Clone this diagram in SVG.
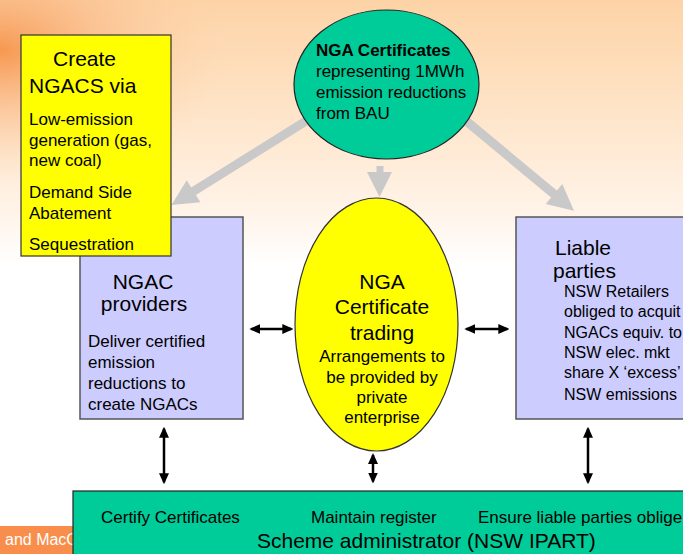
<svg xmlns="http://www.w3.org/2000/svg" width="683" height="554" viewBox="0 0 683 554">
  <defs>
    <linearGradient id="bgFade" x1="0" y1="0" x2="0" y2="554" gradientUnits="userSpaceOnUse">
      <stop offset="0" stop-color="#FDD3A6"/>
      <stop offset="0.20" stop-color="#FEE4C8"/>
      <stop offset="0.38" stop-color="#FFF3E8"/>
      <stop offset="0.48" stop-color="#FFFFFF"/>
      <stop offset="1" stop-color="#FFFFFF"/>
    </linearGradient>
    <radialGradient id="bgGlow" cx="0" cy="50" r="230" gradientUnits="userSpaceOnUse"
                    gradientTransform="translate(0,50) scale(1,0.6) translate(0,-50)">
      <stop offset="0" stop-color="#F6944A" stop-opacity="0.95"/>
      <stop offset="0.45" stop-color="#F9B07A" stop-opacity="0.5"/>
      <stop offset="1" stop-color="#FDD3A6" stop-opacity="0"/>
    </radialGradient>
    <marker id="tip" viewBox="0 0 11 10" refX="9" refY="5" markerWidth="11" markerHeight="10"
            markerUnits="userSpaceOnUse" orient="auto-start-reverse">
      <path d="M0,0 L11,5 L0,10 Z" fill="#000"/>
    </marker>
    <style>
      text { font-family: "Liberation Sans", Arial, sans-serif; fill: #000; }
      .big { font-size: 21px; }
      .body { font-size: 17px; }
      .small { font-size: 16px; }
      .bold { font-weight: bold; }
      .mid { text-anchor: middle; }
      .lav { fill: #CCCCFF; stroke: #555; stroke-width: 1.5; }
      .ylw { fill: #FFFF00; stroke: #333; stroke-width: 1.2; }
      .grn { fill: #00CC99; stroke: #222; stroke-width: 1.2; }
      .flow { fill: #C9C9C9; }
      .link { stroke: #000; stroke-width: 2.5; fill: none; marker-start: url(#tip); marker-end: url(#tip); }
    </style>
  </defs>

  <!-- backdrop -->
  <rect x="0" y="0" width="683" height="554" fill="url(#bgFade)"/>
  <rect x="0" y="0" width="683" height="300" fill="url(#bgGlow)"/>

  <!-- footer tab -->
  <rect x="0" y="526" width="80" height="28" fill="#F98E4C"/>
  <text x="5" y="545" style="font-size:16px; fill:#FFFFFF">and MacG</text>

  <!-- gray flow arrows from the certificate node, black exchange links -->
  <g id="connectors">
    <polygon class="flow" points="308.4,124.8 195.9,195.0 200.4,202.2 171.5,205 186.7,180.2 191.2,187.4 303.6,117.2"/>
    <polygon class="flow" points="376.5,166 383.5,166 383.5,172 392,172 379.5,197 367,172 376.5,172"/>
    <polygon class="flow" points="462.1,123.5 551.1,197.5 545.7,204.1 574,210.7 562.3,184.1 556.9,190.6 467.9,116.5"/>

    <line class="link" x1="251.3" y1="329" x2="291.3" y2="329"/>
    <line class="link" x1="466.3" y1="329" x2="507.3" y2="329"/>
    <line class="link" x1="164" y1="428.7" x2="164" y2="482.3"/>
    <line class="link" x1="373" y1="455" x2="373" y2="481.5"/>
    <line class="link" x1="588" y1="428.7" x2="588" y2="482.3"/>
  </g>

  <!-- NGAC providers -->
  <g id="providers">
    <rect class="lav" x="80" y="217" width="163" height="202"/>
    <text class="big mid" x="143" y="289">NGAC</text>
    <text class="big mid" x="144" y="311">providers</text>
    <text class="body" x="88" y="347">Deliver certified</text>
    <text class="body" x="88" y="368">emission</text>
    <text class="body" x="88" y="389">reductions to</text>
    <text class="body" x="88" y="410">create NGACs</text>
  </g>

  <!-- Ways of creating certificates -->
  <g id="create">
    <rect class="ylw" x="21" y="35" width="150" height="221"/>
    <text class="big" x="53" y="66">Create</text>
    <text class="big" x="29" y="93">NGACS via</text>
    <text class="body" x="29" y="125">Low-emission</text>
    <text class="body" x="29" y="146">generation (gas,</text>
    <text class="body" x="29" y="166">new coal)</text>
    <text class="body" x="29" y="198">Demand Side</text>
    <text class="body" x="29" y="219">Abatement</text>
    <text class="body" x="29" y="250">Sequestration</text>
  </g>

  <!-- Liable parties -->
  <g id="liable">
    <rect class="lav" x="516" y="217" width="175" height="202"/>
    <text class="big" x="555" y="255">Liable</text>
    <text class="big" x="553" y="278">parties</text>
    <text class="small" x="564" y="297">NSW Retailers</text>
    <text class="small" x="564" y="317">obliged to acquit</text>
    <text class="small" x="564" y="338">NGACs equiv. to</text>
    <text class="small" x="564" y="358">NSW elec. mkt</text>
    <text class="small" x="564" y="378">share X ‘excess’</text>
    <text class="small" x="564" y="400">NSW emissions</text>
  </g>

  <!-- Certificates -->
  <g id="certificates">
    <ellipse class="grn" cx="386.5" cy="84.5" rx="92.5" ry="74.5"/>
    <text class="body bold" x="316" y="56">NGA Certificates</text>
    <text class="body" x="316" y="77">representing 1MWh</text>
    <text class="body" x="316" y="98">emission reductions</text>
    <text class="body" x="316" y="119">from BAU</text>
  </g>

  <!-- Trading -->
  <g id="trading">
    <ellipse class="ylw" cx="376.5" cy="324.5" rx="81.5" ry="126.5"/>
    <text class="big mid" x="382" y="289">NGA</text>
    <text class="big mid" x="382" y="314">Certificate</text>
    <text class="big mid" x="382" y="340">trading</text>
    <text class="body mid" x="382" y="362">Arrangements to</text>
    <text class="body mid" x="382" y="383">be provided by</text>
    <text class="body mid" x="382" y="403">private</text>
    <text class="body mid" x="382" y="423">enterprise</text>
  </g>

  <!-- Scheme administrator -->
  <g id="administrator">
    <rect class="grn" x="73" y="491" width="620" height="70"/>
    <text class="body" x="101" y="523">Certify Certificates</text>
    <text class="body" x="311" y="523">Maintain register</text>
    <text class="body" x="478" y="523">Ensure liable parties oblige</text>
    <text class="big" x="257" y="548">Scheme administrator (NSW IPART)</text>
  </g>
</svg>
